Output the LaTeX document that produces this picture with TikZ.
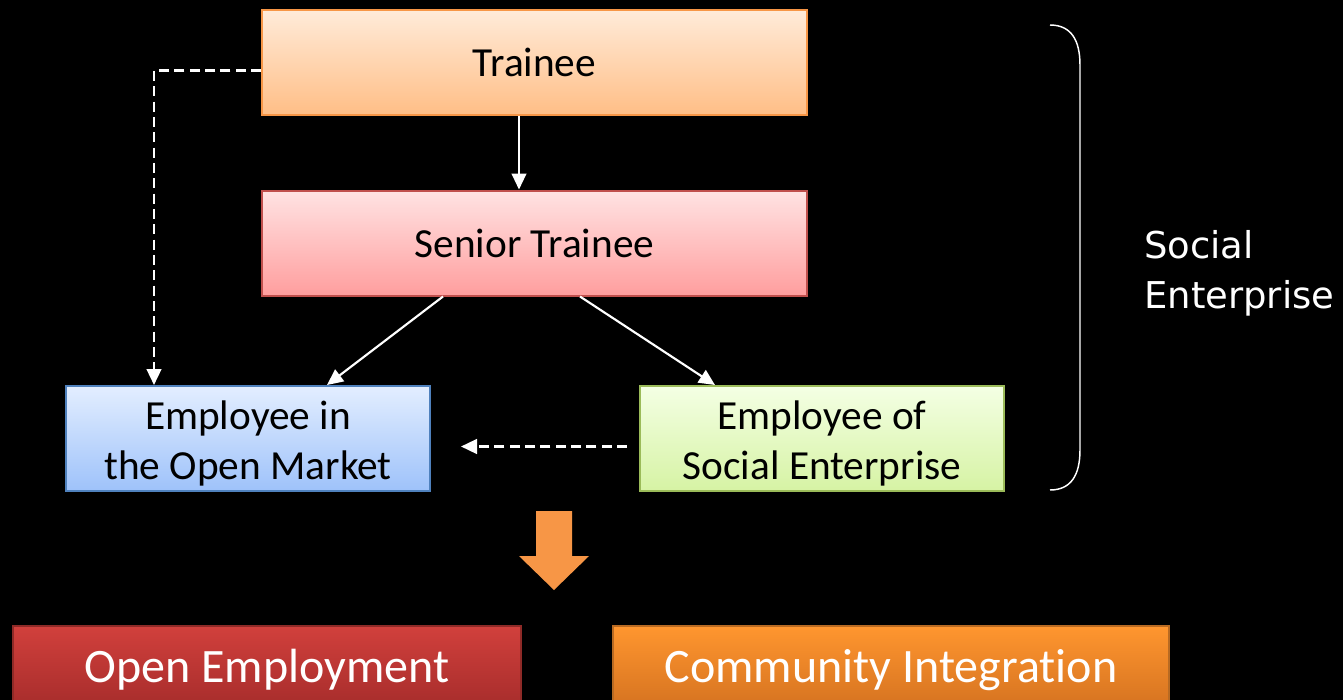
\documentclass[tikz,border=0pt]{standalone}
\usepackage{fontspec}
\setmainfont{Carlito}[Ligatures={NoCommon,NoRare}]
\newfontfamily\sidefont{DejaVu Sans}
\usetikzlibrary{arrows.meta,calc,shadings}

\definecolor{trBorder}{HTML}{F79646}
\definecolor{trTop}{HTML}{FFEBD9}
\definecolor{trBot}{HTML}{FFBE86}
\definecolor{stBorder}{HTML}{C0504D}
\definecolor{stTop}{HTML}{FFE3E3}
\definecolor{stBot}{HTML}{FF9E9E}
\definecolor{omBorder}{HTML}{4F81BD}
\definecolor{omTop}{HTML}{E3EEFF}
\definecolor{omBot}{HTML}{9EC2FA}
\definecolor{seBorder}{HTML}{9BBB59}
\definecolor{seTop}{HTML}{F4FFE4}
\definecolor{seBot}{HTML}{D6F3A4}
\definecolor{oeBorder}{HTML}{8E2A27}
\definecolor{oeTop}{HTML}{D1403C}
\definecolor{oeBot}{HTML}{A32B2A}
\definecolor{ciBorder}{HTML}{B86A22}
\definecolor{ciTop}{HTML}{FF962F}
\definecolor{ciBot}{HTML}{D2701F}
\definecolor{bigArrow}{HTML}{F79646}

% taller first line pushes two-line labels slightly down in their boxes
\newcommand{\lowerstrut}{\rule{0pt}{29pt}}

\begin{document}
\begin{tikzpicture}[x=0.75pt,y=-0.75pt,
  stagebox/.style={draw, line width=1.5pt, align=center, inner sep=0pt,
    minimum height={105*0.75pt},
    font=\fontsize{31}{37.5}\selectfont, text=black},
  outcomebox/.style={draw, line width=1pt, align=center, inner sep=0pt,
    minimum height={88*0.75pt},
    font=\fontsize{36}{43}\selectfont, text=white},
  flow/.style={draw=white, line width=1.6pt,
    -{Triangle[length=12pt,width=11pt]}},
  altflow/.style={flow, line width=1.8pt, dash pattern=on 7.5pt off 4pt}
]
% page and black background
\fill[black] (0,0) rectangle (1343,700);
\useasboundingbox (0,0) rectangle (1343,700);
\clip (0,0) rectangle (1343,700);

% career stages
\node[stagebox, draw=trBorder, top color=trTop, bottom color=trBot,
      minimum width={545*0.75pt}] (tr) at (534.5,62.5) {Trainee};
\node[stagebox, draw=stBorder, top color=stTop, bottom color=stBot,
      minimum width={545*0.75pt}] (st) at (534.5,243) {Senior Trainee};
\node[stagebox, draw=omBorder, top color=omTop, bottom color=omBot,
      minimum width={364*0.75pt}] (om) at (248,438.5)
  {\lowerstrut Employee in\\the Open Market};
\node[stagebox, draw=seBorder, top color=seTop, bottom color=seBot,
      minimum width={364*0.75pt}] (se) at (822,438.5)
  {\lowerstrut Employee of\\Social Enterprise};

% outcomes
\node[outcomebox, draw=oeBorder, top color=oeTop, bottom color=oeBot,
      minimum width={508*0.75pt}] (oe) at (267,670) {Open Employment};
\node[outcomebox, draw=ciBorder, top color=ciTop, bottom color=ciBot,
      minimum width={556*0.75pt}] (ci) at (891,670) {Community Integration};

% progression arrows
\draw[flow] ($(tr.south)+(-15.5,0)$) -- ($(st.north)+(-15.5,0)$);
\draw[flow] ($(st.south west)+(182,0)$) -- ($(om.north west)+(262,0)$);
\draw[flow] ($(st.south west)+(319,0)$) -- ($(se.north west)+(76,0)$);
\draw[altflow] ($(tr.west)+(0,8)$) -| ($(om.north west)+(89,0)$);
\draw[altflow] ($(se.west)+(-12,8)$) -- ($(om.east)+(30,8)$);

% broad downward arrow towards the outcomes
\fill[bigArrow] (536,511) -- (572,511) -- (572,556) -- (589,556)
  -- (554,590) -- (519,556) -- (536,556) -- cycle;

% bracket grouping the social enterprise stages
\draw[white, line width=1.1pt]
  (1050,25) .. controls (1071,25) and (1080,40) .. (1080,65)
  -- (1080,450) .. controls (1080,475) and (1071,490) .. (1050,490);
\node[anchor=west, inner sep=0pt, align=left, text=white,
      font=\sidefont\fontsize{27.7}{37.5}\selectfont] (grp) at (1144,273.5)
  {Social\\Enterprise};
\end{tikzpicture}
\end{document}
